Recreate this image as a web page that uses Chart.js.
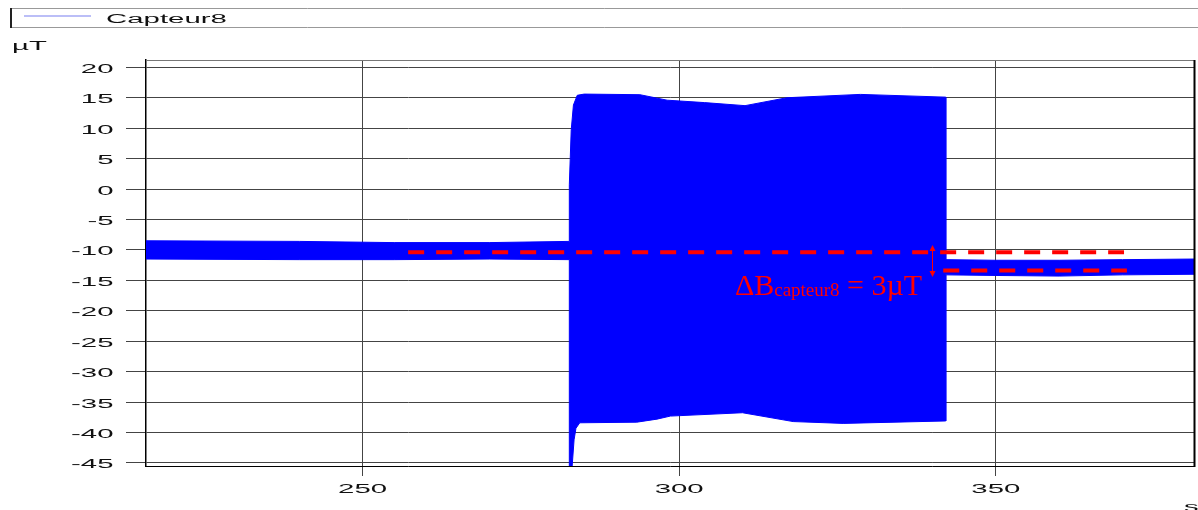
<!DOCTYPE html>
<html>
<head>
<meta charset="utf-8">
<script src="https://cdn.jsdelivr.net/npm/chart.js@4.4.1/dist/chart.umd.min.js"></script>
<style>
  body { margin: 0; background: #fff; }
  #wrap { width: 1198px; height: 510px; position: relative; }
</style>
</head>
<body>
<div id="wrap"><canvas id="myChart"></canvas></div>
<script>
// Capteur8 signal band (time in s, field in µT)
// upper edge of the band, left to right
var upperT = [215.8, 240, 255, 270, 282.65, 282.65, 282.95, 283.3, 283.9, 285, 293.8, 298.1, 304, 310.4, 317, 328.6, 342.1, 342.1, 350, 360, 370, 381.3];
var upperV = [-8.5, -8.6, -8.8, -8.8, -8.6, 0.7, 9.7, 13.8, 15.4, 15.6, 15.5, 14.6, 14.2, 13.7, 15.0, 15.55, 15.1, -11.6, -11.7, -11.7, -11.6, -11.5];
// lower edge of the band, left to right
var lowerT = [215.8, 240, 255, 270, 282.65, 282.65, 283.1, 283.4, 283.7, 284.3, 293.3, 296.5, 298.6, 310, 318, 325.9, 342.1, 342.1, 350, 360, 370, 381.3];
var lowerV = [-11.5, -11.6, -11.6, -11.5, -11.6, -45.5, -45.5, -41.2, -39.3, -38.4, -38.3, -37.8, -37.3, -36.75, -38.2, -38.5, -38.1, -14.1, -14.2, -14.3, -14.1, -14.0];

// red mean levels before / after
var level1T = [257.2, 370.25];
var level1V = [-10.4, -10.4];
var level2T = [341.7, 370.7];
var level2V = [-13.4, -13.4];

var xTicks = [250, 300, 350];
var yTicks = [20, 15, 10, 5, 0, -5, -10, -15, -20, -25, -30, -35, -40, -45];
var seriesName = 'Capteur8';
var yUnit = 'µT';
var xUnit = 's';
var deltaText = ['ΔB', 'capteur8', ' = 3µT'];

function pts(ts, vs) {
  return ts.map(function (t, i) { return { x: t, y: vs[i] }; });
}

var band = pts(upperT, upperV).concat(pts(lowerT, lowerV).reverse());

var STRETCH = 2.35;
function wideText(ctx, txt, x, y, align, size) {
  ctx.save();
  ctx.font = size + 'px "Liberation Sans", Arial, sans-serif';
  ctx.textAlign = align;
  ctx.textBaseline = 'alphabetic';
  ctx.fillStyle = '#111';
  ctx.translate(x, y);
  ctx.scale(STRETCH, 1);
  ctx.fillText(txt, 0, 0);
  ctx.restore();
}

var decor = {
  id: 'decor',
  afterDatasetsDraw: function (chart) {
    var ctx = chart.ctx, xs = chart.scales.x, ys = chart.scales.y;
    ctx.save();
    // double arrow between the two levels
    var ax = Math.round(xs.getPixelForValue(339.9)) + 0.5;
    var a1 = ys.getPixelForValue(-9.2), a2 = ys.getPixelForValue(-14.45);
    ctx.strokeStyle = '#ff0000';
    ctx.fillStyle = '#ff0000';
    ctx.lineWidth = 1;
    ctx.beginPath(); ctx.moveTo(ax, a1 + 3); ctx.lineTo(ax, a2 - 3); ctx.stroke();
    ctx.beginPath(); ctx.moveTo(ax, a1); ctx.lineTo(ax - 3, a1 + 6); ctx.lineTo(ax + 3, a1 + 6); ctx.closePath(); ctx.fill();
    ctx.beginPath(); ctx.moveTo(ax, a2); ctx.lineTo(ax - 3, a2 - 6); ctx.lineTo(ax + 3, a2 - 6); ctx.closePath(); ctx.fill();

    // ΔB label
    var tx = xs.getPixelForValue(308.8), ty = ys.getPixelForValue(-17.4);
    ctx.textAlign = 'left';
    ctx.textBaseline = 'alphabetic';
    ctx.font = '30px "Liberation Serif", "Times New Roman", serif';
    ctx.fillText(deltaText[0], tx, ty);
    var w = ctx.measureText(deltaText[0]).width;
    ctx.font = '19px "Liberation Serif", "Times New Roman", serif';
    ctx.fillText(deltaText[1], tx + w, ty + 1);
    w += ctx.measureText(deltaText[1]).width;
    ctx.font = '30px "Liberation Serif", "Times New Roman", serif';
    ctx.fillText(deltaText[2], tx + w, ty);
    ctx.restore();
  },
  afterDraw: function (chart) {
    var ctx = chart.ctx, xs = chart.scales.x, ys = chart.scales.y, a = chart.chartArea;
    ctx.save();
    // frame top and right
    ctx.strokeStyle = '#777';
    ctx.lineWidth = 1;
    ctx.beginPath(); ctx.moveTo(a.left, a.top + 0.5); ctx.lineTo(a.right, a.top + 0.5); ctx.stroke();
    ctx.strokeStyle = '#000';
    ctx.lineWidth = 2;
    ctx.beginPath(); ctx.moveTo(a.right + 0.5, a.top); ctx.lineTo(a.right + 0.5, a.bottom + 1); ctx.stroke();

    // legend box
    ctx.strokeStyle = '#999';
    ctx.lineWidth = 1;
    ctx.beginPath();
    ctx.moveTo(1205, 8.5); ctx.lineTo(10.5, 8.5); ctx.lineTo(10.5, 27.5); ctx.lineTo(1205, 27.5);
    ctx.stroke();
    ctx.strokeStyle = '#222';
    ctx.lineWidth = 2;
    ctx.beginPath(); ctx.moveTo(11, 8); ctx.lineTo(11, 28); ctx.stroke();
    ctx.strokeStyle = '#a4a8f4';
    ctx.lineWidth = 1.5;
    ctx.beginPath(); ctx.moveTo(24, 16); ctx.lineTo(91, 16); ctx.stroke();
    wideText(ctx, seriesName, 106, 23, 'left', 12.5);

    // axis units
    wideText(ctx, yUnit, 12, 50, 'left', 12.5);
    wideText(ctx, xUnit, 1184, 511, 'left', 12.5);

    // tick labels
    yTicks.forEach(function (v) {
      wideText(ctx, String(v), 113.5, ys.getPixelForValue(v) + 5.5, 'right', 12.5);
    });
    xTicks.forEach(function (v) {
      wideText(ctx, String(v), xs.getPixelForValue(v), 493, 'center', 12.5);
    });
    ctx.restore();
  }
};

new Chart(document.getElementById('myChart'), {
  type: 'scatter',
  data: {
    datasets: [{
      label: seriesName,
      data: band,
      order: 2,
      showLine: true,
      fill: 'shape',
      backgroundColor: '#0000ff',
      borderColor: '#0000ff',
      borderWidth: 1,
      pointRadius: 0,
      tension: 0
    }, {
      label: 'niveau avant',
      data: pts(level1T, level1V),
      order: 0,
      showLine: true,
      fill: false,
      borderColor: '#ff0000',
      borderWidth: 4,
      borderDash: [16, 12],
      pointRadius: 0
    }, {
      label: 'niveau après',
      data: pts(level2T, level2V),
      order: 0,
      showLine: true,
      fill: false,
      borderColor: '#ff0000',
      borderWidth: 4,
      borderDash: [16, 12],
      pointRadius: 0
    }]
  },
  options: {
    responsive: true,
    maintainAspectRatio: false,
    animation: false,
    layout: { padding: { top: 60, right: 4, left: 0, bottom: 0 } },
    plugins: {
      legend: { display: false },
      tooltip: { enabled: false }
    },
    scales: {
      x: {
        type: 'linear',
        min: 215.8,
        max: 381.3,
        afterBuildTicks: function (s) { s.ticks = xTicks.map(function (v) { return { value: v }; }); },
        afterFit: function (s) { s.height = 44; },
        ticks: { display: false },
        grid: { color: '#444', lineWidth: 1, drawTicks: true, tickLength: 10, tickColor: '#444' },
        border: { display: true, color: '#000', width: 1 }
      },
      y: {
        type: 'linear',
        min: -45.5,
        max: 21.2,
        afterBuildTicks: function (s) { s.ticks = yTicks.map(function (v) { return { value: v }; }); },
        afterFit: function (s) { s.width = 146; },
        ticks: { display: false },
        grid: { color: '#444', lineWidth: 1, drawTicks: true, tickLength: 20, tickColor: '#444' },
        border: { display: true, color: '#000', width: 1.5 }
      }
    }
  },
  plugins: [decor]
});
</script>
</body>
</html>
